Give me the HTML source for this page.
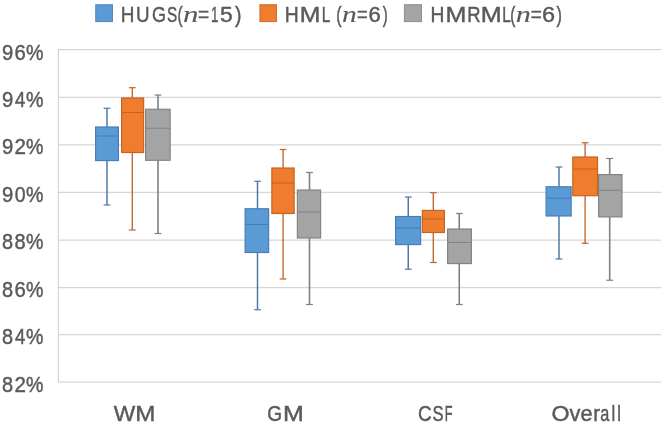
<!DOCTYPE html>
<html><head><meta charset="utf-8"><title>chart</title>
<style>
html,body{margin:0;padding:0;background:#fff;}
body{width:664px;height:426px;overflow:hidden;}
svg{display:block;will-change:transform;}
text{font-family:"Liberation Sans",sans-serif;fill:#5a5a5a;stroke:#5a5a5a;stroke-width:0.45px;}
.it{font-family:"Liberation Serif",serif;font-style:italic;stroke-width:0.1px;}
</style></head><body>
<svg width="664" height="426" viewBox="0 0 664 426">
<rect x="0" y="0" width="664" height="426" fill="#ffffff"/>

<line x1="58" y1="49.6" x2="661" y2="49.6" stroke="#D6D6D6" stroke-width="1.25"/>
<line x1="58" y1="97.35" x2="661" y2="97.35" stroke="#D6D6D6" stroke-width="1.25"/>
<line x1="58" y1="144.85" x2="661" y2="144.85" stroke="#D6D6D6" stroke-width="1.25"/>
<line x1="58" y1="192.35" x2="661" y2="192.35" stroke="#D6D6D6" stroke-width="1.25"/>
<line x1="58" y1="240.05" x2="661" y2="240.05" stroke="#D6D6D6" stroke-width="1.25"/>
<line x1="58" y1="287.5" x2="661" y2="287.5" stroke="#D6D6D6" stroke-width="1.25"/>
<line x1="58" y1="334.7" x2="661" y2="334.7" stroke="#D6D6D6" stroke-width="1.25"/>
<line x1="58" y1="382.2" x2="661" y2="382.2" stroke="#D6D6D6" stroke-width="1.25"/>
<line x1="58.4" y1="49.6" x2="58.4" y2="382.2" stroke="#D6D6D6" stroke-width="1.25"/>
<text font-size="22" transform="translate(1.97,59.50) scale(0.921,1.000)">9</text>
<text font-size="22" transform="translate(14.39,59.50) scale(0.922,1.000)">6</text>
<text font-size="22" transform="translate(26.02,59.50) scale(0.893,1.000)">%</text>
<text font-size="22" transform="translate(1.97,106.95) scale(0.921,1.000)">9</text>
<text font-size="22" transform="translate(14.99,106.95) scale(0.844,1.000)">4</text>
<text font-size="22" transform="translate(26.02,106.95) scale(0.893,1.000)">%</text>
<text font-size="22" transform="translate(1.97,154.40) scale(0.921,1.000)">9</text>
<text font-size="22" transform="translate(14.39,154.40) scale(0.934,1.000)">2</text>
<text font-size="22" transform="translate(26.02,154.40) scale(0.893,1.000)">%</text>
<text font-size="22" transform="translate(1.97,201.85) scale(0.921,1.000)">9</text>
<text font-size="22" transform="translate(14.66,201.85) scale(0.890,1.000)">0</text>
<text font-size="22" transform="translate(26.02,201.85) scale(0.893,1.000)">%</text>
<text font-size="22" transform="translate(2.05,249.30) scale(0.907,1.000)">8</text>
<text font-size="22" transform="translate(14.55,249.30) scale(0.907,1.000)">8</text>
<text font-size="22" transform="translate(26.02,249.30) scale(0.893,1.000)">%</text>
<text font-size="22" transform="translate(2.05,296.75) scale(0.907,1.000)">8</text>
<text font-size="22" transform="translate(14.39,296.75) scale(0.922,1.000)">6</text>
<text font-size="22" transform="translate(26.02,296.75) scale(0.893,1.000)">%</text>
<text font-size="22" transform="translate(2.05,344.20) scale(0.907,1.000)">8</text>
<text font-size="22" transform="translate(14.99,344.20) scale(0.844,1.000)">4</text>
<text font-size="22" transform="translate(26.02,344.20) scale(0.893,1.000)">%</text>
<text font-size="22" transform="translate(2.05,391.65) scale(0.907,1.000)">8</text>
<text font-size="22" transform="translate(14.39,391.65) scale(0.934,1.000)">2</text>
<text font-size="22" transform="translate(26.02,391.65) scale(0.893,1.000)">%</text>
<g stroke="#457DB5" stroke-width="1.15" fill="none">
<line x1="107.0" y1="108.25" x2="107.0" y2="205.0" stroke="#4F78A6" stroke-width="1.5"/>
<line x1="103.6" y1="108.25" x2="110.4" y2="108.25" stroke="#4F78A6" stroke-width="1.2"/>
<line x1="103.6" y1="205.0" x2="110.4" y2="205.0" stroke="#4F78A6" stroke-width="1.2"/>
<rect x="95.6" y="127.0" width="22.80" height="33.60" fill="#5A9BD6"/>
<line x1="95.5" y1="136.0" x2="118.5" y2="136.0" stroke-width="1.05" stroke-opacity="0.95"/>
</g>
<g stroke="#C4621E" stroke-width="1.15" fill="none">
<line x1="132.3" y1="87.7" x2="132.3" y2="230.0" stroke="#C2642A" stroke-width="1.35"/>
<line x1="128.9" y1="87.7" x2="135.70000000000002" y2="87.7" stroke="#C2642A" stroke-width="1.2"/>
<line x1="128.9" y1="230.0" x2="135.70000000000002" y2="230.0" stroke="#C2642A" stroke-width="1.2"/>
<rect x="121.6" y="98.0" width="22.05" height="54.50" fill="#EF7D2D"/>
<line x1="121.5" y1="112.5" x2="143.75" y2="112.5" stroke-width="1.05" stroke-opacity="0.95"/>
</g>
<g stroke="#828282" stroke-width="1.15" fill="none">
<line x1="158.0" y1="95.0" x2="158.0" y2="233.5" stroke="#808080" stroke-width="1.6"/>
<line x1="154.6" y1="95.0" x2="161.4" y2="95.0" stroke="#808080" stroke-width="1.2"/>
<line x1="154.6" y1="233.5" x2="161.4" y2="233.5" stroke="#808080" stroke-width="1.2"/>
<rect x="145.6" y="109.25" width="24.55" height="51.05" fill="#A4A4A4"/>
<line x1="145.5" y1="128.25" x2="170.25" y2="128.25" stroke-width="1.05" stroke-opacity="0.95"/>
</g>
<g stroke="#457DB5" stroke-width="1.15" fill="none">
<line x1="257.5" y1="181.25" x2="257.5" y2="309.75" stroke="#4F78A6" stroke-width="1.5"/>
<line x1="254.1" y1="181.25" x2="260.9" y2="181.25" stroke="#4F78A6" stroke-width="1.2"/>
<line x1="254.1" y1="309.75" x2="260.9" y2="309.75" stroke="#4F78A6" stroke-width="1.2"/>
<rect x="245.1" y="208.75" width="23.55" height="43.75" fill="#5A9BD6"/>
<line x1="245.0" y1="224.5" x2="268.75" y2="224.5" stroke-width="1.05" stroke-opacity="0.95"/>
</g>
<g stroke="#C4621E" stroke-width="1.15" fill="none">
<line x1="283.1" y1="149.5" x2="283.1" y2="279.0" stroke="#C2642A" stroke-width="1.35"/>
<line x1="279.70000000000005" y1="149.5" x2="286.5" y2="149.5" stroke="#C2642A" stroke-width="1.2"/>
<line x1="279.70000000000005" y1="279.0" x2="286.5" y2="279.0" stroke="#C2642A" stroke-width="1.2"/>
<rect x="271.85" y="168.0" width="22.30" height="45.50" fill="#EF7D2D"/>
<line x1="271.75" y1="183.0" x2="294.25" y2="183.0" stroke-width="1.05" stroke-opacity="0.95"/>
</g>
<g stroke="#828282" stroke-width="1.15" fill="none">
<line x1="309.5" y1="172.5" x2="309.5" y2="304.5" stroke="#808080" stroke-width="1.6"/>
<line x1="306.1" y1="172.5" x2="312.9" y2="172.5" stroke="#808080" stroke-width="1.2"/>
<line x1="306.1" y1="304.5" x2="312.9" y2="304.5" stroke="#808080" stroke-width="1.2"/>
<rect x="297.35" y="190.0" width="23.30" height="48.00" fill="#A4A4A4"/>
<line x1="297.25" y1="212.0" x2="320.75" y2="212.0" stroke-width="1.05" stroke-opacity="0.95"/>
</g>
<g stroke="#457DB5" stroke-width="1.15" fill="none">
<line x1="408.25" y1="197.0" x2="408.25" y2="269.25" stroke="#4F78A6" stroke-width="1.5"/>
<line x1="404.85" y1="197.0" x2="411.65" y2="197.0" stroke="#4F78A6" stroke-width="1.2"/>
<line x1="404.85" y1="269.25" x2="411.65" y2="269.25" stroke="#4F78A6" stroke-width="1.2"/>
<rect x="395.6" y="216.5" width="25.05" height="28.10" fill="#5A9BD6"/>
<line x1="395.5" y1="227.9" x2="420.75" y2="227.9" stroke-width="1.05" stroke-opacity="0.95"/>
</g>
<g stroke="#C4621E" stroke-width="1.15" fill="none">
<line x1="433.3" y1="192.7" x2="433.3" y2="262.5" stroke="#C2642A" stroke-width="1.35"/>
<line x1="429.90000000000003" y1="192.7" x2="436.7" y2="192.7" stroke="#C2642A" stroke-width="1.2"/>
<line x1="429.90000000000003" y1="262.5" x2="436.7" y2="262.5" stroke="#C2642A" stroke-width="1.2"/>
<rect x="422.35" y="210.4" width="22.05" height="22.10" fill="#EF7D2D"/>
<line x1="422.25" y1="218.95" x2="444.5" y2="218.95" stroke-width="1.05" stroke-opacity="0.95"/>
</g>
<g stroke="#828282" stroke-width="1.15" fill="none">
<line x1="459.25" y1="213.5" x2="459.25" y2="304.5" stroke="#808080" stroke-width="1.6"/>
<line x1="455.85" y1="213.5" x2="462.65" y2="213.5" stroke="#808080" stroke-width="1.2"/>
<line x1="455.85" y1="304.5" x2="462.65" y2="304.5" stroke="#808080" stroke-width="1.2"/>
<rect x="447.6" y="229.0" width="23.80" height="34.60" fill="#A4A4A4"/>
<line x1="447.5" y1="242.5" x2="471.5" y2="242.5" stroke-width="1.05" stroke-opacity="0.95"/>
</g>
<g stroke="#457DB5" stroke-width="1.15" fill="none">
<line x1="559.0" y1="167.0" x2="559.0" y2="259.0" stroke="#4F78A6" stroke-width="1.5"/>
<line x1="555.6" y1="167.0" x2="562.4" y2="167.0" stroke="#4F78A6" stroke-width="1.2"/>
<line x1="555.6" y1="259.0" x2="562.4" y2="259.0" stroke="#4F78A6" stroke-width="1.2"/>
<rect x="546.1" y="186.75" width="25.05" height="29.25" fill="#5A9BD6"/>
<line x1="546.0" y1="198.25" x2="571.25" y2="198.25" stroke-width="1.05" stroke-opacity="0.95"/>
</g>
<g stroke="#C4621E" stroke-width="1.15" fill="none">
<line x1="585.1" y1="142.75" x2="585.1" y2="243.25" stroke="#C2642A" stroke-width="1.35"/>
<line x1="581.7" y1="142.75" x2="588.5" y2="142.75" stroke="#C2642A" stroke-width="1.2"/>
<line x1="581.7" y1="243.25" x2="588.5" y2="243.25" stroke="#C2642A" stroke-width="1.2"/>
<rect x="572.8000000000001" y="157.0" width="24.70" height="38.75" fill="#EF7D2D"/>
<line x1="572.7" y1="169.0" x2="597.6" y2="169.0" stroke-width="1.05" stroke-opacity="0.95"/>
</g>
<g stroke="#828282" stroke-width="1.15" fill="none">
<line x1="609.7" y1="158.5" x2="609.7" y2="280.25" stroke="#808080" stroke-width="1.6"/>
<line x1="606.3000000000001" y1="158.5" x2="613.1" y2="158.5" stroke="#808080" stroke-width="1.2"/>
<line x1="606.3000000000001" y1="280.25" x2="613.1" y2="280.25" stroke="#808080" stroke-width="1.2"/>
<rect x="598.6" y="174.6" width="23.40" height="42.30" fill="#A4A4A4"/>
<line x1="598.5" y1="190.25" x2="622.1" y2="190.25" stroke-width="1.05" stroke-opacity="0.95"/>
</g>
<rect x="95.7" y="4.7" width="16.80" height="16.9" fill="#5A9BD6" stroke="#457DB5" stroke-opacity="0.85" stroke-width="1"/>
<rect x="259.9" y="4.7" width="16.60" height="16.9" fill="#EF7D2D" stroke="#C4621E" stroke-opacity="0.85" stroke-width="1"/>
<rect x="404.4" y="4.7" width="17.10" height="16.9" fill="#A4A4A4" stroke="#828282" stroke-opacity="0.85" stroke-width="1"/>
<text font-size="22" transform="translate(120.77,21.80) scale(0.859,1.000)">H</text>
<text font-size="22" transform="translate(135.97,21.80) scale(0.853,1.000)">U</text>
<text font-size="22" transform="translate(152.11,21.80) scale(0.819,1.000)">G</text>
<text font-size="22" transform="translate(166.92,21.80) scale(0.700,1.000)">S</text>
<text font-size="22" transform="translate(177.57,21.80) scale(0.696,1.000)">(</text>
<text class="it" font-size="22.5" transform="translate(183.00,21.80) scale(1.377,1.000)">n</text>
<text font-size="22" transform="translate(198.09,21.80) scale(0.866,1.000)">=</text>
<text font-size="22" transform="translate(211.10,21.80) scale(0.607,1.000)">1</text>
<text font-size="22" transform="translate(219.90,21.80) scale(1.041,1.000)">5</text>
<text font-size="22" transform="translate(235.11,21.80) scale(0.885,1.000)">)</text>
<text font-size="22" transform="translate(284.63,21.80) scale(0.880,1.000)">H</text>
<text font-size="22" transform="translate(299.69,21.80) scale(1.125,1.000)">M</text>
<text font-size="22" transform="translate(321.70,21.80) scale(0.702,1.000)">L</text>
<text font-size="22" transform="translate(336.15,21.80) scale(0.713,1.000)">(</text>
<text class="it" font-size="22.5" transform="translate(342.05,21.80) scale(1.314,1.000)">n</text>
<text font-size="22" transform="translate(356.93,21.80) scale(0.829,1.000)">=</text>
<text font-size="22" transform="translate(368.50,21.80) scale(1.001,1.000)">6</text>
<text font-size="22" transform="translate(382.63,21.80) scale(0.679,1.000)">)</text>
<text font-size="22" transform="translate(430.54,21.80) scale(0.876,1.000)">H</text>
<text font-size="22" transform="translate(445.42,21.80) scale(1.135,1.000)">M</text>
<text font-size="22" transform="translate(467.31,21.80) scale(0.839,1.000)">R</text>
<text font-size="22" transform="translate(480.66,21.80) scale(1.142,1.000)">M</text>
<text font-size="22" transform="translate(502.16,21.80) scale(0.697,1.000)">L</text>
<text font-size="22" transform="translate(510.37,21.80) scale(0.696,1.000)">(</text>
<text class="it" font-size="22.5" transform="translate(515.82,21.80) scale(1.345,1.000)">n</text>
<text font-size="22" transform="translate(530.69,21.80) scale(0.866,1.000)">=</text>
<text font-size="22" transform="translate(542.12,21.80) scale(1.070,1.000)">6</text>
<text font-size="22" transform="translate(556.62,21.80) scale(0.739,1.000)">)</text>
<text font-size="22" transform="translate(113.72,421.00) scale(1.037,1.000)">W</text>
<text font-size="22" transform="translate(135.34,421.00) scale(1.098,1.000)">M</text>
<text font-size="22" transform="translate(267.36,421.00) scale(0.868,1.000)">G</text>
<text font-size="22" transform="translate(282.92,421.00) scale(1.135,1.000)">M</text>
<text font-size="22" transform="translate(418.00,421.00) scale(0.866,1.000)">C</text>
<text font-size="22" transform="translate(432.57,421.00) scale(0.755,1.000)">S</text>
<text font-size="22" transform="translate(444.78,421.00) scale(0.578,1.000)">F</text>
<text font-size="22" transform="translate(551.62,421.00) scale(1.053,1.000)">O</text>
<text font-size="22" transform="translate(569.55,421.00) scale(0.992,1.000)">v</text>
<text font-size="22" transform="translate(580.55,421.00) scale(0.989,1.000)">e</text>
<text font-size="22" transform="translate(593.25,421.00) scale(0.938,1.000)">r</text>
<text font-size="22" transform="translate(600.13,421.00) scale(0.740,1.000)">a</text>
<text font-size="22" transform="translate(611.60,421.00) scale(0.755,1.000)">l</text>
<text font-size="22" transform="translate(617.20,421.00) scale(0.755,1.000)">l</text>
</svg></body></html>
